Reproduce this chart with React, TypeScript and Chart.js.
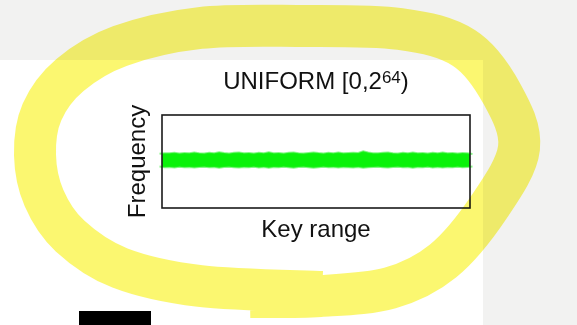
import React, { useEffect, useRef } from 'react';
import { Chart, registerables } from 'chart.js';

Chart.register(...registerables);

// ---- text ----
const titleMain = 'UNIFORM [0,2';
const titleExponent = '64';
const titleClose = ')';
const xAxisLabel = 'Key range';
const yAxisLabel = 'Frequency';

// ---- data: upper / lower envelope of the (noisy) uniform key-frequency band ----
// relative frequency (axis 0 .. 2, band centred near 1)
const upperEdge = [
  1.165, 1.18, 1.175, 1.19, 1.172, 1.185, 1.178, 1.195,
  1.18, 1.17, 1.188, 1.176, 1.2, 1.182, 1.174, 1.186,
  1.192, 1.178, 1.184, 1.17, 1.19, 1.18, 1.198, 1.176,
  1.182, 1.172, 1.188, 1.194, 1.18, 1.172, 1.184, 1.196,
  1.182, 1.174, 1.186, 1.18, 1.192, 1.176, 1.184, 1.19,
  1.182, 1.22, 1.194, 1.18, 1.176, 1.188, 1.192, 1.18,
  1.172, 1.186, 1.18, 1.194, 1.176, 1.184, 1.17, 1.188,
  1.18, 1.192, 1.176, 1.184, 1.172, 1.182, 1.176, 1.16,
];
const lowerEdge = [
  0.89, 0.878, 0.884, 0.872, 0.886, 0.876, 0.882, 0.87,
  0.88, 0.888, 0.874, 0.884, 0.868, 0.88, 0.886, 0.874,
  0.87, 0.882, 0.876, 0.888, 0.872, 0.88, 0.866, 0.884,
  0.878, 0.886, 0.874, 0.868, 0.88, 0.888, 0.876, 0.866,
  0.878, 0.886, 0.874, 0.88, 0.87, 0.884, 0.876, 0.872,
  0.88, 0.864, 0.874, 0.882, 0.886, 0.874, 0.87, 0.88,
  0.888, 0.874, 0.88, 0.868, 0.884, 0.876, 0.888, 0.872,
  0.88, 0.87, 0.884, 0.876, 0.886, 0.878, 0.884, 0.892,
];
const yMin = 0;
const yMax = 2;

const FONT = "'Liberation Sans', Arial, Helvetica, sans-serif";
const GREEN = 'rgb(10, 242, 10)';
const EDGE = 'rgba(40, 240, 40, 0.55)';

// page backdrop: grey screen, white panel, black block
const backdropPlugin = {
  id: 'backdrop',
  beforeDraw(chart: any) {
    const ctx = chart.ctx;
    const w = chart.width;
    const h = chart.height;
    ctx.save();
    ctx.fillStyle = '#f2f2f1';
    ctx.fillRect(0, 0, w, h);
    ctx.fillStyle = '#ffffff';
    ctx.fillRect(0, 60, 483, h - 60);
    ctx.fillStyle = '#000000';
    ctx.fillRect(79, 311, 72, h - 311);
    ctx.restore();
  },
};

// box around the plot area + title with superscript exponent
const framePlugin = {
  id: 'frame',
  afterDatasetsDraw(chart: any) {
    const { ctx, chartArea: a } = chart;
    ctx.save();
    ctx.strokeStyle = '#1a1a1a';
    ctx.lineWidth = 1.6;
    ctx.strokeRect(a.left, a.top, a.right - a.left, a.bottom - a.top);

    ctx.fillStyle = '#111';
    ctx.textBaseline = 'alphabetic';
    ctx.textAlign = 'left';
    const mainFont = `24px ${FONT}`;
    const supFont = `17px ${FONT}`;
    ctx.font = mainFont;
    const wMain = ctx.measureText(titleMain).width;
    const wClose = ctx.measureText(titleClose).width;
    ctx.font = supFont;
    const wSup = ctx.measureText(titleExponent).width;
    const total = wMain + wSup + wClose;
    const cx = (a.left + a.right) / 2;
    const baseY = 89;
    let x = cx - total / 2;
    ctx.font = mainFont;
    ctx.fillText(titleMain, x, baseY);
    x += wMain;
    ctx.font = supFont;
    ctx.fillText(titleExponent, x, baseY - 6.5);
    x += wSup;
    ctx.font = mainFont;
    ctx.fillText(titleClose, x, baseY);
    ctx.restore();
  },
};

// yellow highlighter scribble
const loopPoints: [number, number][] = [
  [322, 292], [200, 286], [120, 268], [70, 236], [44, 198], [35, 155],
  [42, 112], [70, 75], [120, 46], [200, 28], [300, 26], [400, 29],
  [464, 48], [502, 94], [519, 148], [489, 207], [443, 261], [390, 288],
  [320, 296], [250, 297],
];
const highlightPlugin = {
  id: 'highlight',
  afterDraw(chart: any) {
    const ctx = chart.ctx;
    const p = loopPoints;
    ctx.save();
    ctx.globalCompositeOperation = 'multiply';
    ctx.strokeStyle = 'rgb(251, 247, 112)';
    ctx.lineWidth = 42;
    ctx.lineCap = 'butt';
    ctx.lineJoin = 'round';
    ctx.beginPath();
    ctx.moveTo(p[0][0], p[0][1]);
    for (let i = 0; i < p.length - 1; i++) {
      const p0 = p[Math.max(0, i - 1)];
      const p1 = p[i];
      const p2 = p[i + 1];
      const p3 = p[Math.min(p.length - 1, i + 2)];
      const c1x = p1[0] + (p2[0] - p0[0]) / 6;
      const c1y = p1[1] + (p2[1] - p0[1]) / 6;
      const c2x = p2[0] - (p3[0] - p1[0]) / 6;
      const c2y = p2[1] - (p3[1] - p1[1]) / 6;
      ctx.bezierCurveTo(c1x, c1y, c2x, c2y, p2[0], p2[1]);
    }
    ctx.stroke();
    ctx.restore();
  },
};

export default function App() {
  const canvasRef = useRef<HTMLCanvasElement | null>(null);

  useEffect(() => {
    const canvas = canvasRef.current;
    if (!canvas) return;
    const upper = upperEdge.map((y, i) => ({ x: i, y }));
    const lower = lowerEdge.map((y, i) => ({ x: i, y }));
    const chart = new Chart(canvas, {
      type: 'line',
      data: {
        datasets: [
          {
            label: 'upper',
            data: upper,
            borderColor: EDGE,
            borderWidth: 2,
            pointRadius: 0,
            fill: false,
            clip: false,
            tension: 0,
          },
          {
            label: 'lower',
            data: lower,
            borderColor: EDGE,
            borderWidth: 2,
            backgroundColor: GREEN,
            pointRadius: 0,
            fill: '-1',
            clip: false,
            tension: 0,
          },
        ],
      },
      options: {
        animation: false,
        responsive: false,
        devicePixelRatio: 1,
        events: [],
        layout: { padding: { left: 124, right: 107, top: 115, bottom: 80.6 } },
        plugins: {
          legend: { display: false },
          tooltip: { enabled: false },
          title: { display: false },
        },
        scales: {
          x: {
            type: 'linear',
            min: 0.5,
            max: lowerEdge.length - 1.5,
            ticks: { display: false },
            grid: { display: false, drawTicks: false },
            border: { display: false },
            title: {
              display: true,
              text: xAxisLabel,
              color: '#111',
              font: { family: FONT, size: 24, lineHeight: 1.2 },
              padding: { top: 7.6, bottom: 0 },
            },
          },
          y: {
            type: 'linear',
            min: yMin,
            max: yMax,
            ticks: { display: false },
            grid: { display: false, drawTicks: false },
            border: { display: false },
            title: {
              display: true,
              text: yAxisLabel,
              color: '#111',
              font: { family: FONT, size: 24, lineHeight: 1.2 },
              padding: { top: 0, bottom: 9.2 },
            },
          },
        },
      },
      plugins: [backdropPlugin, framePlugin, highlightPlugin],
    } as any);
    return () => chart.destroy();
  }, []);

  return (
    <div style={{ position: 'fixed', left: 0, top: 0, width: 577, height: 325 }}>
      <canvas ref={canvasRef} width={577} height={325} style={{ display: 'block' }} />
    </div>
  );
}
